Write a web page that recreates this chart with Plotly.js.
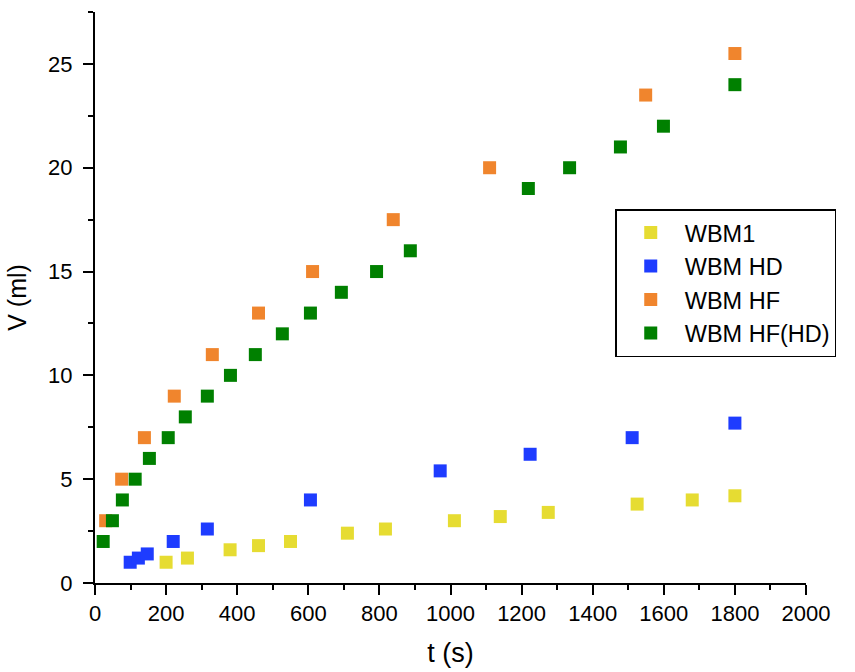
<!DOCTYPE html>
<html>
<head>
<meta charset="utf-8">
<script src="https://cdn.plot.ly/plotly-3.0.1.min.js"></script>
<style>html,body{margin:0;padding:0;background:#fff;}#chart{width:855px;height:672px;}</style>
</head>
<body>
<div id="chart"></div>
<script>
const seriesNames = ["WBM1", "WBM HD", "WBM HF", "WBM HF(HD)"];
const seriesColors = ["#E6DC32", "#1E3CFF", "#F0852D", "#008000"];

const wbm1_t = [200, 260, 380, 460, 550, 710, 817, 1011, 1140, 1275, 1525, 1680, 1800];
const wbm1_v = [1.0, 1.2, 1.6, 1.8, 2.0, 2.4, 2.6, 3.0, 3.2, 3.4, 3.8, 4.0, 4.2];

const wbmHD_t = [99, 122, 147, 220, 316, 606, 971, 1224, 1511, 1800];
const wbmHD_v = [1.0, 1.2, 1.4, 2.0, 2.6, 4.0, 5.4, 6.2, 7.0, 7.7];

const wbmHF_t = [30, 75, 139, 223, 330, 460, 612, 839, 1110, 1549, 1800];
const wbmHF_v = [3, 5, 7, 9, 11, 13, 15, 17.5, 20, 23.5, 25.5];

const wbmHFHD_t = [23, 49, 77, 113, 153, 206, 254, 316, 381, 451, 527, 606, 693, 792, 887, 1219, 1335, 1478, 1599, 1800];
const wbmHFHD_v = [2, 3, 4, 5, 6, 7, 8, 9, 10, 11, 12, 13, 14, 15, 16, 19, 20, 21, 22, 24];

const xs = [wbm1_t, wbmHD_t, wbmHF_t, wbmHFHD_t];
const ys = [wbm1_v, wbmHD_v, wbmHF_v, wbmHFHD_v];

const traces = seriesNames.map((n, i) => ({
  type: "scatter",
  mode: "markers",
  name: n,
  x: xs[i],
  y: ys[i],
  marker: {symbol: "square", size: 13, color: seriesColors[i], line: {width: 0}},
  cliponaxis: false
}));

const font = "Liberation Sans, Arial, Helvetica, sans-serif";

const layout = {
  width: 855,
  height: 672,
  paper_bgcolor: "#ffffff",
  plot_bgcolor: "#ffffff",
  margin: {l: 95, r: 49.3, t: 12, b: 89.4, autoexpand: false},
  showlegend: true,
  font: {family: font, color: "#000"},
  xaxis: {
    range: [0, 2000],
    dtick: 200,
    tick0: 0,
    ticks: "outside",
    ticklen: 10,
    tickwidth: 2,
    tickcolor: "#000",
    minor: {dtick: 100, ticks: "outside", ticklen: 5, tickwidth: 2, tickcolor: "#000"},
    showline: true,
    linewidth: 2,
    linecolor: "#000",
    showgrid: false,
    zeroline: false,
    tickfont: {size: 22, family: font, color: "#000"},
    title: {text: "t (s)", font: {size: 27, family: font, color: "#000"}, standoff: 18},
    automargin: false
  },
  yaxis: {
    range: [0, 27.5],
    dtick: 5,
    tick0: 0,
    ticks: "outside",
    ticklen: 10,
    tickwidth: 2,
    tickcolor: "#000",
    minor: {dtick: 2.5, ticks: "outside", ticklen: 5, tickwidth: 2, tickcolor: "#000"},
    showline: true,
    linewidth: 2,
    linecolor: "#000",
    showgrid: false,
    zeroline: false,
    ticklabelstandoff: 6,
    tickfont: {size: 22, family: font, color: "#000"},
    title: {text: "V (ml)", font: {size: 25, family: font, color: "#000"}, standoff: 14},
    automargin: false
  },
  legend: {
    x: 0.7317,
    y: 0.6547,
    xanchor: "left",
    yanchor: "top",
    bgcolor: "#ffffff",
    bordercolor: "#000",
    borderwidth: 1.5,
    font: {size: 23.5, family: font, color: "#000"},
    itemwidth: 58,
    tracegroupgap: 0
  }
};

Plotly.newPlot("chart", traces, layout, {displayModeBar: false, staticPlot: true});
</script>
</body>
</html>
